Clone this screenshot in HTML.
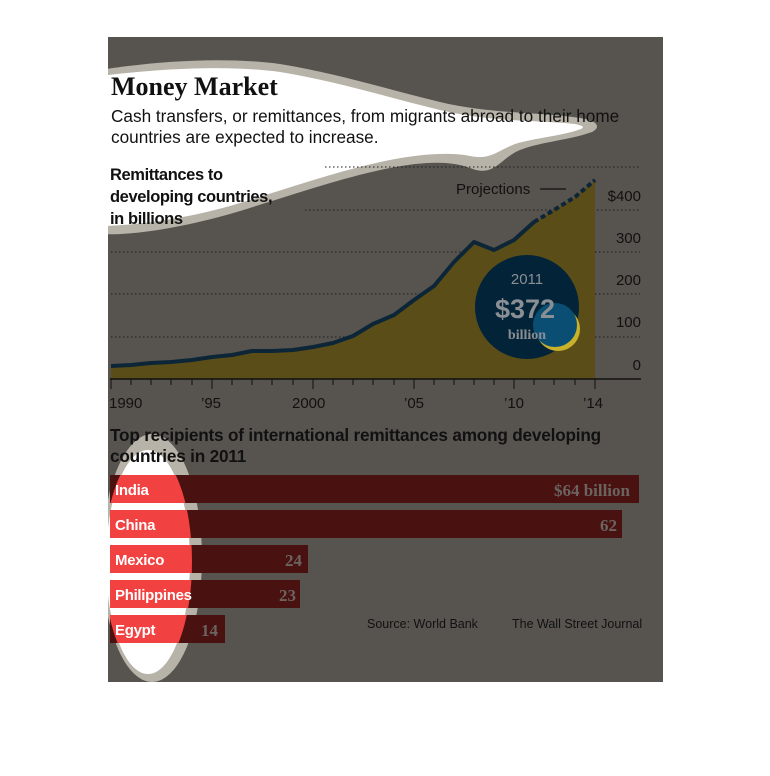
<!DOCTYPE html>
<html><head><meta charset="utf-8"><style>
body{margin:0;background:#fff;}
svg{display:block;}
</style></head><body>
<svg width="770" height="776" viewBox="0 0 770 776" xmlns="http://www.w3.org/2000/svg">
<defs>
<clipPath id="panel"><rect x="108" y="37" width="555" height="645"/></clipPath>
<clipPath id="lb"><ellipse cx="148" cy="562" rx="44" ry="112"/></clipPath>
</defs>
<rect x="108" y="37" width="555" height="645" fill="#57544f"/>
<g clip-path="url(#panel)">
<path d="M100,70 C150,62 220,56 280,64 C340,74 390,90 440,102 C490,114 540,112 580,118 C600,121 600,128 592,132 C570,140 540,142 520,150 C500,158 495,178 470,168 C450,160 420,162 390,168 C340,178 290,196 230,214 C180,228 130,236 100,234 Z" fill="#b8b3a8"/>
<path d="M100,76 C150,70 220,64 280,72 C340,82 390,98 440,110 C490,122 535,120 575,124 C585,126 585,128 578,130 C560,136 535,138 515,144 C495,152 490,160 470,156 C450,152 420,154 390,160 C340,170 290,188 230,206 C180,220 130,226 100,226 Z" fill="#fff"/>
<ellipse cx="152" cy="558" rx="50" ry="124" fill="#b8b3a8"/>
<ellipse cx="148" cy="562" rx="42" ry="112" fill="#fff"/>
</g>
<g font-family="Liberation Sans, sans-serif" fill="#111">
<text x="111" y="95" font-family="Liberation Serif, serif" font-weight="bold" font-size="26">Money Market</text>
<text x="111" y="122" font-size="17.2">Cash transfers, or remittances, from migrants abroad to their home</text>
<text x="111" y="143" font-size="17.2">countries are expected to increase.</text>
<text font-size="16.5" font-weight="bold" letter-spacing="-0.4"><tspan x="110" y="180">Remittances to</tspan><tspan x="110" y="202">developing countries,</tspan><tspan x="110" y="224">in billions</tspan></text>
</g>
<g stroke="#1c1c1c" stroke-width="1" stroke-dasharray="1.5,2.5">
<line x1="325" y1="167" x2="640" y2="167"/>
<line x1="305" y1="210" x2="640" y2="210"/>
<line x1="111" y1="252" x2="640" y2="252"/>
<line x1="111" y1="294" x2="640" y2="294"/>
<line x1="111" y1="337" x2="640" y2="337"/>
</g>
<path d="M111,366 L131,365 L151,363 L171,362 L192,360 L212,357 L232,355 L252,351 L272,351 L293,350 L313,347 L333,343 L353,336 L373,324 L394,315 L414,300 L434,286 L454,262 L474,242 L494,250 L514,240 L534,222 L554,210 L575,197 L595,180 L595,379 L111,379 Z" fill="#5a4d18"/>
<g font-family="Liberation Sans, sans-serif" font-size="15" fill="#111" text-anchor="end">
<text x="641" y="201">$400</text><text x="641" y="243">300</text><text x="641" y="285">200</text><text x="641" y="327">100</text><text x="641" y="370">0</text>
</g>
<g stroke="#0c2638" stroke-width="4" fill="none" stroke-linejoin="round">
<path d="M111,366 L131,365 L151,363 L171,362 L192,360 L212,357 L232,355 L252,351 L272,351 L293,350 L313,347 L333,343 L353,336 L373,324 L394,315 L414,300 L434,286 L454,262 L474,242 L494,250 L514,240 L534,222"/>
<path d="M534,222 L554,210 L575,197 L595,180" stroke-dasharray="5,3"/>
</g>
<text x="456" y="194" font-family="Liberation Sans, sans-serif" font-size="15" fill="#111">Projections</text>
<line x1="540" y1="189" x2="566" y2="189" stroke="#111" stroke-width="1.2"/>
<circle cx="527" cy="307" r="52" fill="#032338"/>
<circle cx="558" cy="329" r="22" fill="#c9b22a"/>
<circle cx="555" cy="325" r="22" fill="#0a4e73"/>
<g font-family="Liberation Sans, sans-serif" text-anchor="middle" fill="#8a8f94" font-weight="bold">
<text x="527" y="284" font-size="15" font-weight="normal">2011</text>
<text x="525" y="318" font-size="27">$372</text>
<text x="527" y="339" font-size="14" font-family="Liberation Serif, serif">billion</text>
</g>
<line x1="110" y1="379" x2="641" y2="379" stroke="#111" stroke-width="1.5"/>
<g stroke="#111" stroke-width="1">
<path d="M111,379v10M131,379v6M151,379v6M171,379v6M192,379v6M212,379v10M232,379v6M252,379v6M272,379v6M293,379v6M313,379v10M333,379v6M353,379v6M373,379v6M394,379v6M414,379v10M434,379v6M454,379v6M474,379v6M494,379v6M514,379v10M534,379v6M554,379v6M575,379v6M595,379v10"/>
</g>
<g font-family="Liberation Sans, sans-serif" font-size="15" fill="#111">
<text x="109" y="408">1990</text><text x="201" y="408">’95</text><text x="292" y="408">2000</text><text x="404" y="408">’05</text><text x="504" y="408">’10</text><text x="583" y="408">’14</text>
<text font-size="17.2" font-weight="bold" letter-spacing="-0.2"><tspan x="110" y="441">Top recipients of international remittances among developing</tspan><tspan x="110" y="462">countries in 2011</tspan></text>
</g>
<g fill="#4a1111">
<rect x="110" y="475" width="529" height="28"/>
<rect x="110" y="510" width="512" height="28"/>
<rect x="110" y="545" width="198" height="28"/>
<rect x="110" y="580" width="190" height="28"/>
<rect x="110" y="615" width="115" height="28"/>
</g>
<g fill="#f24141" clip-path="url(#lb)">
<rect x="110" y="475" width="529" height="28"/>
<rect x="110" y="510" width="512" height="28"/>
<rect x="110" y="545" width="198" height="28"/>
<rect x="110" y="580" width="190" height="28"/>
<rect x="110" y="615" width="115" height="28"/>
</g>
<g font-family="Liberation Sans, sans-serif" font-size="15" font-weight="bold" fill="#fff" letter-spacing="-0.3">
<text x="115" y="495">India</text><text x="115" y="530">China</text><text x="115" y="565">Mexico</text><text x="115" y="600">Philippines</text><text x="115" y="635">Egypt</text>
</g>
<g font-family="Liberation Serif, serif" font-size="17" font-weight="bold" fill="#6a6460" text-anchor="end">
<text x="630" y="496">$64 billion</text><text x="617" y="531">62</text><text x="302" y="566">24</text><text x="296" y="601">23</text><text x="218" y="636">14</text>
</g>
<g font-family="Liberation Sans, sans-serif" font-size="12.5" fill="#111">
<text x="367" y="628">Source: World Bank</text><text x="512" y="628">The Wall Street Journal</text>
</g>
</svg>
</body></html>
